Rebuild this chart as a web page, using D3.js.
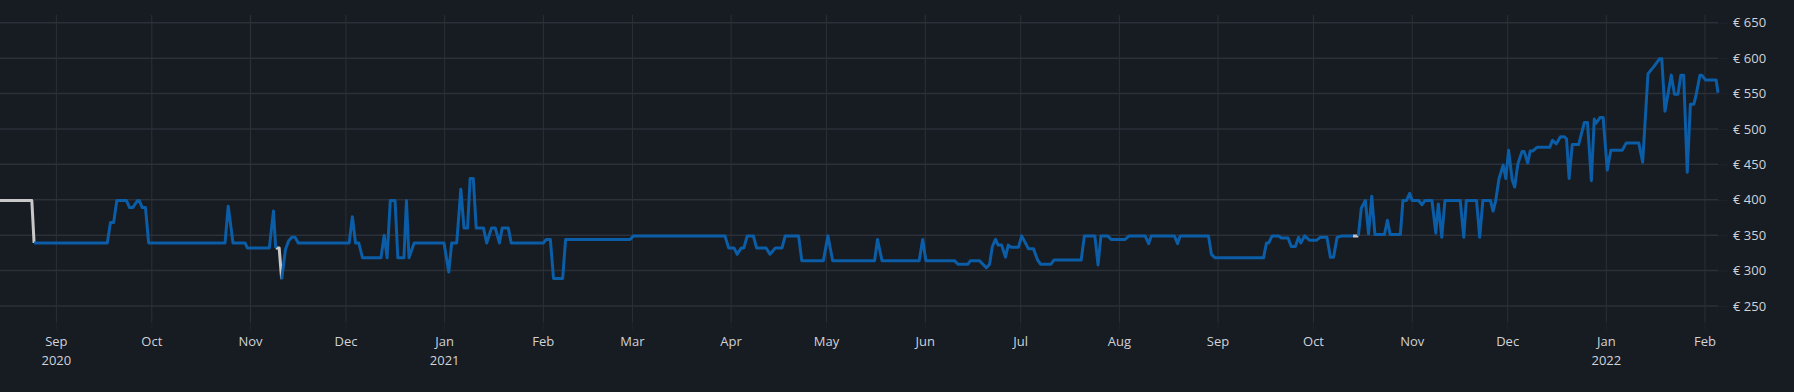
<!DOCTYPE html>
<html>
<head>
<meta charset="utf-8">
<script src="https://cdn.jsdelivr.net/npm/d3@7/dist/d3.min.js"></script>
<style>
  html, body { margin: 0; padding: 0; background: #171b22; }
  svg { display: block; }
  text { font-family: "Open Sans", sans-serif; }
</style>
</head>
<body>
<div id="chart"></div>
<script>
// price history, blue = main seller, grey = short stretches from another source
// null value = break in the line
var blueDates = [
  "2020-08-25","2020-09-17","2020-09-18","2020-09-19","2020-09-20","2020-09-23","2020-09-24","2020-09-25",
  "2020-09-26 12:00","2020-09-27","2020-09-28","2020-09-29","2020-09-30","2020-10-24","2020-10-25",
  "2020-10-26 12:00","2020-10-30 07:00","2020-10-31","2020-11-06 22:00","2020-11-08 05:00","2020-11-08 22:00",
  "2020-11-09 12:00",
  "2020-11-10 19:00","2020-11-12","2020-11-13","2020-11-14","2020-11-15","2020-11-16","2020-12-02",
  "2020-12-03","2020-12-04","2020-12-05","2020-12-06 05:00","2020-12-12","2020-12-13","2020-12-13 22:00",
  "2020-12-14 22:00","2020-12-16 10:00","2020-12-17 07:00","2020-12-19 05:00","2020-12-20","2020-12-20 19:00",
  "2020-12-22 10:00","2020-12-31 19:00","2021-01-02 07:00","2021-01-03 05:00","2021-01-04 19:00",
  "2021-01-06 02:00","2021-01-07 02:00","2021-01-08 05:00","2021-01-09","2021-01-10","2021-01-10 22:00",
  "2021-01-13 05:00","2021-01-14 05:00","2021-01-15 17:00","2021-01-16 22:00","2021-01-18 05:00",
  "2021-01-19 02:00","2021-01-21","2021-01-21 22:00","2021-02-01","2021-02-01 22:00","2021-02-03 05:00",
  "2021-02-04 05:00","2021-02-07 02:00","2021-02-08","2021-02-28 07:00","2021-03-01 07:00",
  "2021-03-30 02:00","2021-03-31 05:00","2021-04-01 22:00","2021-04-02 22:00","2021-04-04 05:00",
  "2021-04-05","2021-04-06 02:00","2021-04-08","2021-04-09","2021-04-12","2021-04-13 05:00",
  "2021-04-14 22:00","2021-04-17","2021-04-18","2021-04-22 05:00","2021-04-23 05:00","2021-04-30",
  "2021-05-01 10:00","2021-05-02 22:00","2021-05-16 02:00","2021-05-17","2021-05-18 10:00",
  "2021-05-30 02:00","2021-05-31 05:00","2021-06-01 05:00","2021-06-10 05:00","2021-06-11 07:00",
  "2021-06-14 10:00","2021-06-15 05:00","2021-06-18","2021-06-20 05:00","2021-06-21 05:00",
  "2021-06-22 02:00","2021-06-23 02:00","2021-06-23 22:00","2021-06-25","2021-06-26 05:00",
  "2021-06-27 02:00","2021-06-28","2021-06-30 07:00","2021-07-01 07:00","2021-07-03 10:00","2021-07-05",
  "2021-07-06 07:00","2021-07-07 05:00","2021-07-10 12:00","2021-07-11 12:00","2021-07-20","2021-07-21",
  "2021-07-24 07:00","2021-07-25 07:00","2021-07-26 05:00","2021-07-28 07:00","2021-07-29 10:00",
  "2021-08-02 19:00","2021-08-04 02:00","2021-08-09 02:00","2021-08-10 05:00","2021-08-11",
  "2021-08-18 07:00","2021-08-19 07:00","2021-08-20 02:00","2021-08-29","2021-08-29 22:00",
  "2021-08-31 02:00","2021-09-15 07:00","2021-09-16 05:00","2021-09-16 22:00","2021-09-18","2021-09-20",
  "2021-09-20 22:00","2021-09-23","2021-09-24","2021-09-25 07:00","2021-09-26 07:00","2021-09-27",
  "2021-09-28 05:00","2021-09-29 17:00","2021-10-02","2021-10-03 02:00","2021-10-05 05:00",
  "2021-10-06 07:00","2021-10-07 07:00","2021-10-08 10:00","2021-10-10","2021-10-13 10:00",
  "2021-10-14 06:00",
  "2021-10-15 02:00","2021-10-16","2021-10-17 07:00","2021-10-18 07:00","2021-10-19 07:00",
  "2021-10-20 07:00","2021-10-23 07:00","2021-10-24 05:00","2021-10-25 02:00","2021-10-28 07:00",
  "2021-10-29 02:00","2021-10-30 05:00","2021-10-31 05:00","2021-11-01","2021-11-03","2021-11-04 02:00",
  "2021-11-05 02:00","2021-11-07 05:00","2021-11-08 10:00","2021-11-09 05:00","2021-11-10 07:00",
  "2021-11-11 07:00","2021-11-16 02:00","2021-11-17 05:00","2021-11-18","2021-11-21 05:00",
  "2021-11-22 05:00","2021-11-23 05:00","2021-11-25 14:00","2021-11-26 10:00","2021-11-27 05:00",
  "2021-11-28 07:00","2021-11-29 14:00","2021-11-30 10:00","2021-12-01 07:00","2021-12-02 10:00",
  "2021-12-03 05:00","2021-12-04 05:00","2021-12-05 12:00","2021-12-06 05:00","2021-12-07 07:00",
  "2021-12-08 02:00","2021-12-08 22:00","2021-12-10 05:00","2021-12-14 05:00","2021-12-15 02:00",
  "2021-12-16 07:00","2021-12-17 14:00","2021-12-18 19:00","2021-12-19 12:00","2021-12-20 07:00",
  "2021-12-21 07:00","2021-12-23 07:00","2021-12-25 02:00","2021-12-26 02:00","2021-12-27 07:00",
  "2021-12-28 05:00","2021-12-28 19:00","2021-12-30","2021-12-31","2022-01-01 07:00","2022-01-02 10:00",
  "2022-01-06","2022-01-07 05:00","2022-01-11 05:00","2022-01-12 10:00","2022-01-14 02:00",
  "2022-01-15 22:00","2022-01-17 17:00","2022-01-18 10:00","2022-01-19 10:00","2022-01-21 10:00",
  "2022-01-22 10:00","2022-01-23 12:00","2022-01-24 10:00","2022-01-25 07:00","2022-01-26 10:00",
  "2022-01-27 10:00","2022-01-28 12:00","2022-01-29 05:00","2022-01-30 10:00","2022-01-31",
  "2022-02-01 05:00","2022-02-04 12:00","2022-02-05 02:00"
];
var blueValues = [
  339,339,368,368,399,399,389,389,
  399,399,389,389,339,339,391,
  339,339,332,332,384,332,
  null,
  288,330,342,347,347,339,339,
  376,339,339,318,318,350,318,
  399,399,318,318,399,318,
  339,339,298,339,339,
  415,360,360,430,430,360,
  360,339,360,360,339,
  360,360,339,339,344,344,
  289,289,344,344,349,
  349,332,332,323,332,
  332,349,349,332,332,323,
  332,332,349,349,314,314,
  349,314,314,344,314,
  314,344,314,314,309,
  309,314,314,304,309,
  334,344,336,336,319,
  336,333,333,349,331,331,
  315,309,309,315,315,349,
  349,308,349,349,344,
  344,349,349,338,349,
  349,338,349,349,323,
  318,318,339,339,349,349,
  346,346,334,334,347,339,
  349,343,343,347,347,
  319,319,347,349,349,
  null,
  349,388,399,352,405,
  351,351,371,351,351,
  399,399,409,399,399,393,
  399,399,353,394,347,
  399,399,347,399,399,
  347,399,399,384,398,
  430,449,430,470,428,
  418,451,468,468,452,
  469,469,474,474,484,
  479,489,489,486,430,
  478,478,509,509,427,
  514,508,516,516,442,470,
  470,480,480,453,578,
  588,599,599,525,576,
  549,549,576,576,439,
  535,535,548,576,576,
  569,569,551
];
var greyDates = [
  "2020-08-14 07:00","2020-08-24 07:00","2020-08-25",
  "2020-10-01",
  "2020-11-08 22:00","2020-11-10","2020-11-10 19:00",
  "2021-01-01",
  "2021-10-13 10:00","2021-10-15 02:00"
];
var greyValues = [
  399,399,339,
  null,
  332,332,288,
  null,
  349,349
];
var yTicks = [250, 300, 350, 400, 450, 500, 550, 600, 650];

var width = 1794, height = 392;
var plotLeft = 0, plotRight = 1718, plotTop = 15, plotBottom = 322;

var parseHour = d3.timeParse("%Y-%m-%d %H:%M"),
    parseDay = d3.timeParse("%Y-%m-%d");
function parseDate(s) { return s.length > 10 ? parseHour(s) : parseDay(s); }

function toPoints(dates, values) {
  return dates.map(function(d, i) { return { date: parseDate(d), value: values[i] }; });
}
var bluePts = toPoints(blueDates, blueValues),
    greyPts = toPoints(greyDates, greyValues);

var x = d3.scaleTime()
  .domain([greyPts[0].date, bluePts[bluePts.length - 1].date])
  .range([plotLeft, plotRight]);
var y = d3.scaleLinear().domain([227.4, 660.9]).range([plotBottom, plotTop]);

var svg = d3.select("#chart").append("svg")
  .attr("width", width)
  .attr("height", height);

svg.append("rect").attr("width", width).attr("height", height).attr("fill", "#171b22");

var months = x.ticks(d3.timeMonth.every(1));

// vertical grid
svg.append("g").selectAll("line")
  .data(months).enter().append("line")
  .attr("x1", function(d) { return x(d); })
  .attr("x2", function(d) { return x(d); })
  .attr("y1", plotTop).attr("y2", plotBottom)
  .attr("stroke", "#2b3039").attr("stroke-width", 1);

// horizontal grid
svg.append("g").selectAll("line")
  .data(yTicks).enter().append("line")
  .attr("x1", plotLeft).attr("x2", plotRight)
  .attr("y1", function(d) { return y(d); })
  .attr("y2", function(d) { return y(d); })
  .attr("stroke", "#2b3039").attr("stroke-width", 1.5);

// y axis on the right
var yAxis = d3.axisRight(y).tickValues(yTicks).tickSize(10).tickPadding(5)
  .tickFormat(function(d) { return "€ " + d; });
var gy = svg.append("g").attr("transform", "translate(" + plotRight + ",0)").call(yAxis);
gy.select(".domain").remove();
gy.selectAll(".tick line").attr("stroke", "#1f232b");
gy.selectAll(".tick text").attr("fill", "#d0d3d8").style("font-size", "13px")
  .attr("font-family", "'Open Sans', sans-serif");

// x axis labels: month, plus year under the first tick and every January
var gx = svg.append("g");
gx.selectAll("line.tk")
  .data(months).enter().append("line")
  .attr("x1", function(d) { return x(d); })
  .attr("x2", function(d) { return x(d); })
  .attr("y1", plotBottom).attr("y2", plotBottom + 8)
  .attr("stroke", "#1f232b");
gx.selectAll("text.m")
  .data(months).enter().append("text")
  .attr("class", "m")
  .attr("x", function(d) { return x(d); })
  .attr("y", 346)
  .attr("text-anchor", "middle")
  .attr("fill", "#d0d3d8")
  .style("font-size", "13px")
  .text(d3.timeFormat("%b"));
gx.selectAll("text.yr")
  .data(months.filter(function(d, i) { return i === 0 || d.getMonth() === 0; }))
  .enter().append("text")
  .attr("class", "yr")
  .attr("x", function(d) { return x(d); })
  .attr("y", 365)
  .attr("text-anchor", "middle")
  .attr("fill", "#d0d3d8")
  .style("font-size", "13px")
  .text(d3.timeFormat("%Y"));

var line = d3.line()
  .defined(function(d) { return d.value != null; })
  .x(function(d) { return x(d.date); })
  .y(function(d) { return y(d.value); });

svg.append("path").datum(greyPts)
  .attr("d", line)
  .attr("fill", "none")
  .attr("stroke", "#c8c8c8")
  .attr("stroke-width", 3)
  .attr("stroke-linejoin", "round");

svg.append("path").datum(bluePts)
  .attr("d", line)
  .attr("fill", "none")
  .attr("stroke", "#0a5da6")
  .attr("stroke-width", 3)
  .attr("stroke-linejoin", "round");
</script>
</body>
</html>
